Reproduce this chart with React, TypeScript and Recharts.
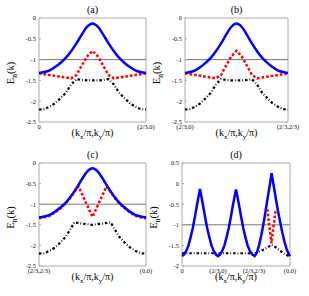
import { LineChart, Line, XAxis, YAxis, ReferenceLine, ReferenceArea, Label } from "recharts";

const FONT = "'Liberation Serif', 'Times New Roman', serif";

// path coordinate, as a fraction of the panel width
const kBell = [0, 0.05, 0.1, 0.15, 0.2, 0.25, 0.3, 0.35, 0.4, 0.45, 0.5, 0.55, 0.6, 0.65, 0.7, 0.75, 0.8, 0.85, 0.9, 0.95, 1];
// panels (a) and (b)
const upperAB = [-1.32, -1.3, -1.26, -1.18, -1.08, -0.96, -0.8, -0.61, -0.4, -0.21, -0.13, -0.21, -0.4, -0.61, -0.8, -0.96, -1.08, -1.18, -1.26, -1.3, -1.32];
const middleAB = [-1.33, -1.35, -1.37, -1.39, -1.41, -1.43, -1.45, -1.37, -1.14, -0.92, -0.79, -0.92, -1.14, -1.37, -1.45, -1.43, -1.41, -1.39, -1.37, -1.35, -1.33];
const lowerAB = [-2.2, -2.19, -2.13, -2.05, -1.93, -1.8, -1.6, -1.47, -1.49, -1.5, -1.5, -1.5, -1.49, -1.47, -1.6, -1.8, -1.93, -2.05, -2.13, -2.19, -2.2];

// panel (c)
const upperC = upperAB;
const kMiddleC = [0, 0.05, 0.1, 0.15, 0.2, 0.25, 0.3, 0.35, 0.37, 0.5, 0.63, 0.65, 0.7, 0.75, 0.8, 0.85, 0.9, 0.95, 1];
const middleC = [-1.34, -1.32, -1.28, -1.2, -1.1, -0.98, -0.82, -0.63, -0.57, -1.31, -0.57, -0.63, -0.82, -0.98, -1.1, -1.2, -1.28, -1.32, -1.34];
const kLowerC = [0, 0.05, 0.1, 0.15, 0.2, 0.25, 0.3, 0.33, 0.4, 0.5, 0.6, 0.67, 0.7, 0.75, 0.8, 0.85, 0.9, 0.95, 1];
const lowerC = [-2.2, -2.19, -2.13, -2.05, -1.93, -1.79, -1.58, -1.44, -1.47, -1.5, -1.47, -1.44, -1.58, -1.79, -1.93, -2.05, -2.13, -2.19, -2.2];

// panel (d)
const kUpperD = [0, 0.02, 0.04, 0.06, 0.08, 0.1, 0.12, 0.14, 0.1665, 0.193, 0.213, 0.233, 0.253, 0.273, 0.293, 0.313, 0.333,
  0.353, 0.373, 0.393, 0.413, 0.433, 0.453, 0.473, 0.5, 0.527, 0.547, 0.567, 0.587, 0.607, 0.627, 0.65, 0.673,
  0.693, 0.713, 0.733, 0.753, 0.773, 0.793, 0.813, 0.83, 0.85, 0.87, 0.89, 0.91, 0.93, 0.95, 0.97, 0.99, 1];
const upperD = [-1.76, -1.72, -1.63, -1.5, -1.3, -1.08, -0.8, -0.5, -0.13, -0.5, -0.8, -1.08, -1.3, -1.5, -1.63, -1.72, -1.76,
  -1.72, -1.63, -1.5, -1.3, -1.08, -0.8, -0.5, -0.14, -0.5, -0.8, -1.08, -1.3, -1.5, -1.63, -1.72, -1.76,
  -1.68, -1.5, -1.27, -1.0, -0.68, -0.35, -0.03, 0.25, -0.07, -0.38, -0.68, -0.95, -1.2, -1.42, -1.6, -1.72, -1.76];
const kMiddleD = [0.79, 0.828, 0.867];
const middleD = [-0.62, -1.45, -0.63];
const kLowerD = [0, 0.2, 0.4, 0.6, 0.673, 0.71, 0.75, 0.79, 0.83, 0.87, 0.91, 0.95, 1];
const lowerD = [-1.69, -1.69, -1.69, -1.69, -1.7, -1.66, -1.61, -1.55, -1.49, -1.55, -1.63, -1.71, -1.77];

const yTicksABC = [0, -0.5, -1, -1.5, -2, -2.5];
const yTicksD = [0.5, 0, -0.5, -1, -1.5, -2];
const xTicksA = ["0", "(2/3,0)"];
const xTicksB = ["(2/3,0)", "(2/3,2/3)"];
const xTicksC = ["(2/3,2/3)", "(0,0)"];
const xTicksD = ["0", "(2/3,0)", "(2/3,2/3)", "(0,0)"];

const W = 309;
const H = 296;
const YW = 30;
const XH = 20;

const zip = (ks: number[], vs: number[]) => ks.map((k, i) => ({ k, e: vs[i] }));

type Series = { ks: number[]; vs: number[]; kind: "upper" | "middle" | "lower" };

const styles = {
  lower: { stroke: "#000", strokeWidth: 2.2, strokeDasharray: "2.5 2 0.8 2" },
  middle: { stroke: "#ff0000", strokeWidth: 2.5, strokeDasharray: "2.6 2" },
  upper: { stroke: "#0000ff", strokeWidth: 2.5, strokeDasharray: undefined },
};

type PanelProps = {
  title: string;
  box: [number, number, number, number]; // left, top, right, bottom of the plot area
  yDomain: [number, number];
  yTicks: number[];
  xLabels: string[];
  series: Series[];
  curve: "monotone" | "linear";
};

function Panel({ title, box, yDomain, yTicks, xLabels, series, curve }: PanelProps) {
  const [l, t, r, b] = box;
  const xTicks = xLabels.map((_, i) => i / (xLabels.length - 1));
  const cy = (t + b) / 2 + 3;
  return (
    <div style={{ position: "absolute", left: 0, top: 0 }}>
      <LineChart width={W} height={H} margin={{ left: l - YW, top: t, right: W - r, bottom: H - b - XH }}>
        <XAxis
          dataKey="k"
          type="number"
          domain={[0, 1]}
          ticks={xTicks}
          tickFormatter={(v: number) => xLabels[Math.round(v * (xLabels.length - 1))]}
          height={XH}
          axisLine={false}
          tickLine={false}
          tickSize={0}
          tickMargin={2}
          interval={0}
          tick={{ fontSize: 6.5, fill: "#111", fontFamily: FONT }}
        >
          <Label
            content={() => (
              <text x={(l + r) / 2} y={b + 14} textAnchor="middle" fontSize={10} fontFamily={FONT} fill="#000">
                (k<tspan fontSize={7} dy={3}>x</tspan>
                <tspan dy={-3}>/π,k</tspan>
                <tspan fontSize={7} dy={3}>y</tspan>
                <tspan dy={-3}>/π)</tspan>
              </text>
            )}
          />
        </XAxis>
        <YAxis
          type="number"
          domain={yDomain}
          ticks={yTicks}
          allowDataOverflow
          width={YW}
          axisLine={false}
          tickLine={{ stroke: "#aaa" }}
          tickSize={-2}
          tickMargin={5}
          interval={0}
          tick={{ fontSize: 6.5, fill: "#111", fontFamily: FONT }}
        >
          <Label
            content={() => (
              <text
                x={l - 25}
                y={cy}
                transform={`rotate(-90 ${l - 25} ${cy})`}
                textAnchor="middle"
                fontSize={10.5}
                fontFamily={FONT}
                fill="#000"
              >
                E<tspan fontSize={7.5} dy={2.5}>n</tspan>
                <tspan dy={-2.5}>(k)</tspan>
              </text>
            )}
          />
        </YAxis>
        <ReferenceLine y={-1} stroke="#777" strokeWidth={1} />
        {series.map((s, i) => (
          <Line
            key={i}
            data={zip(s.ks, s.vs)}
            dataKey="e"
            type={s.kind === "upper" ? curve : "linear"}
            dot={false}
            isAnimationActive={false}
            {...styles[s.kind]}
          />
        ))}
        <ReferenceArea
          x1={0}
          x2={1}
          y1={yDomain[0]}
          y2={yDomain[1]}
          fill="none"
          stroke="#aaa"
          strokeWidth={1}
          label={{ value: title, position: "top", offset: 5, fontSize: 10, fill: "#000", fontFamily: FONT }}
        />
      </LineChart>
    </div>
  );
}

export default function App() {
  return (
    <div style={{ position: "absolute", left: 0, top: 0, width: W, height: H, background: "#fff" }}>
      <Panel
        title="(a)"
        box={[39, 18, 146, 122]}
        yDomain={[-2.5, 0]}
        yTicks={yTicksABC}
        xLabels={xTicksA}
        curve="monotone"
        series={[
          { ks: kBell, vs: lowerAB, kind: "lower" },
          { ks: kBell, vs: middleAB, kind: "middle" },
          { ks: kBell, vs: upperAB, kind: "upper" },
        ]}
      />
      <Panel
        title="(b)"
        box={[185, 18, 288, 122]}
        yDomain={[-2.5, 0]}
        yTicks={yTicksABC}
        xLabels={xTicksB}
        curve="monotone"
        series={[
          { ks: kBell, vs: lowerAB, kind: "lower" },
          { ks: kBell, vs: middleAB, kind: "middle" },
          { ks: kBell, vs: upperAB, kind: "upper" },
        ]}
      />
      <Panel
        title="(c)"
        box={[39, 163, 146, 266]}
        yDomain={[-2.5, 0]}
        yTicks={yTicksABC}
        xLabels={xTicksC}
        curve="monotone"
        series={[
          { ks: kLowerC, vs: lowerC, kind: "lower" },
          { ks: kMiddleC, vs: middleC, kind: "middle" },
          { ks: kBell, vs: upperC, kind: "upper" },
        ]}
      />
      <Panel
        title="(d)"
        box={[182, 163, 290, 266]}
        yDomain={[-2, 0.5]}
        yTicks={yTicksD}
        xLabels={xTicksD}
        curve="linear"
        series={[
          { ks: kLowerD, vs: lowerD, kind: "lower" },
          { ks: kUpperD, vs: upperD, kind: "upper" },
          { ks: kMiddleD, vs: middleD, kind: "middle" },
        ]}
      />
    </div>
  );
}
